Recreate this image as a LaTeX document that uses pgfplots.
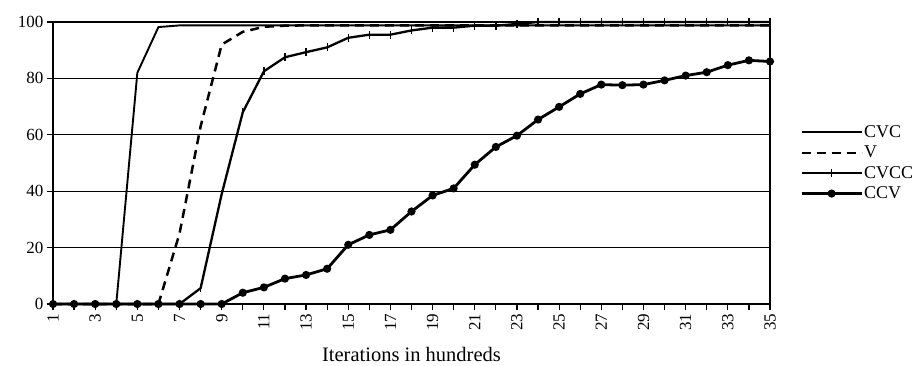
\documentclass[border=0pt]{standalone}
\usepackage{fontspec}
\setmainfont{Liberation Serif}
\usepackage{pgfplots}
\pgfplotsset{compat=1.18}
\usepackage{pgfplotstable}
\pgfplotstableread{
x cvc v cvcc ccv
1 0 0 0 0
2 0 0 0 0
3 0 0 0 0
4 0 0 0 0
5 82 0 0 0
6 98.2 0 0 0
7 98.8 25 0 0
8 98.8 63 5.6 0
9 98.8 92 39 0
10 98.8 96.5 68 4
11 98.8 98.3 82.5 5.9
12 98.8 98.7 87.5 9
13 98.8 98.8 89.3 10.3
14 98.8 98.8 91 12.5
15 98.8 98.8 94.4 21
16 98.8 98.8 95.5 24.5
17 98.8 98.8 95.5 26.3
18 98.8 98.8 97 32.8
19 98.8 98.8 98 38.5
20 98.8 98.8 98 41
21 98.8 98.8 98.7 49.4
22 98.8 98.8 98.7 55.7
23 98.8 98.8 99.3 59.7
24 98.8 98.8 100 65.4
25 98.8 98.8 100 69.9
26 98.8 98.8 100 74.5
27 98.8 98.8 100 77.8
28 98.8 98.8 100 77.6
29 98.8 98.8 100 77.8
30 98.8 98.8 100 79.3
31 98.8 98.8 100 81
32 98.8 98.8 100 82.2
33 98.8 98.8 100 84.7
34 98.8 98.8 100 86.4
35 98.8 98.8 100 86
}\data
\begin{document}
\begin{tikzpicture}
\begin{axis}[
  scale only axis,
  width=717pt, height=282pt,
  xmin=1, xmax=35, ymin=0, ymax=100,
  clip=false,
  axis line style={black, line width=1.5pt},
  xtick={1,3,...,35},
  minor xtick={2,4,...,34},
  ytick={0,20,...,100},
  xtick pos=bottom, ytick pos=left,
  tick align=outside,
  major tick length=6pt, minor tick length=6pt,
  every tick/.style={black, line width=1.2pt},
  minor tick style={black, line width=1.2pt},
  ymajorgrids,
  grid style={black, line width=1.3pt},
  /pgf/number format/assume math mode=true,
  ticklabel style={font=\fontsize{17}{19}\selectfont},
  xticklabel style={rotate=90, anchor=east},
  xlabel={Iterations in hundreds},
  xlabel style={font=\fontsize{20.5}{22}\selectfont, at={(axis description cs:0.5,0)}, anchor=base, yshift=-57pt},
  legend style={draw=none, fill=none, at={(1,0.5)}, anchor=west, xshift=27pt,
    font=\fontsize{18}{20}\selectfont, row sep=5pt,
    nodes={inner xsep=1pt, inner ysep=1pt}},
  legend cell align=left,
  legend image code/.code={\draw[mark repeat=2,mark phase=2,#1] plot coordinates {(0pt,0pt) (30pt,0pt) (60pt,0pt)};},
]
\addplot[black, line width=1.9pt, no marks] table[x=x, y=cvc] {\data};
\addlegendentry{CVC}
\addplot[black, line width=2.5pt, no marks, dash pattern=on 9pt off 6pt] table[x=x, y=v] {\data};
\addlegendentry{V}
\addplot[black, line width=2.3pt, mark=|, mark size=4pt, mark options={line width=1.3pt}] table[x=x, y=cvcc] {\data};
\addlegendentry{CVCC}
\addplot[black, line width=2.8pt, mark=*, mark size=2.6pt] table[x=x, y=ccv] {\data};
\addlegendentry{CCV}
\end{axis}
\pgfresetboundingbox
\path (-53pt,-61pt) rectangle (864pt,304pt);
\end{tikzpicture}
\end{document}
